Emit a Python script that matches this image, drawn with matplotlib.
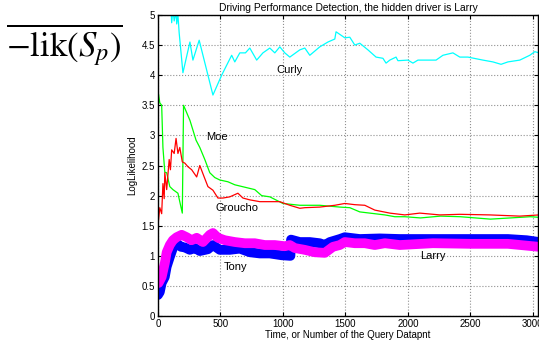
import matplotlib
matplotlib.use("Agg")
import matplotlib.pyplot as plt
import numpy as np

# ---- data ----
curly_x = [0, 60, 100, 110, 120, 130, 145, 150, 160, 170, 200, 256, 280, 330, 440, 510,
           590, 615, 655, 700, 735, 790, 840, 895, 935, 975, 1015, 1055, 1135, 1175, 1215,
           1295, 1360, 1415, 1425, 1495, 1535, 1575, 1615, 1680, 1745, 1800, 1825, 1855,
           1905, 1920, 2000, 2040, 2080, 2225, 2280, 2360, 2415, 2480, 2600, 2680, 2745,
           2800, 2895, 2975, 3015, 3050]
curly_y = [5.6, 5.5, 5.3, 4.87, 5.1, 4.9, 5.05, 4.85, 5.0, 4.7, 4.04, 4.55, 4.25, 4.58, 3.67, 4.0,
           4.33, 4.22, 4.37, 4.37, 4.45, 4.25, 4.37, 4.45, 4.37, 4.47, 4.37, 4.3, 4.42, 4.45, 4.33,
           4.47, 4.55, 4.6, 4.72, 4.62, 4.63, 4.5, 4.53, 4.42, 4.3, 4.28, 4.2, 4.25,
           4.3, 4.24, 4.25, 4.2, 4.25, 4.25, 4.33, 4.37, 4.3, 4.3, 4.25, 4.22, 4.18,
           4.22, 4.25, 4.33, 4.39, 4.37]

moe_x = [0, 15, 30, 40, 55, 70, 95, 120, 160, 195, 205, 256, 305, 335, 375, 415, 455, 495,
         560, 615, 695, 775, 830, 895, 1000, 1135, 1295, 1455, 1535, 1615, 1695, 1815, 1895,
         1975, 2100, 2260, 2420, 2660, 2820, 2980, 3050]
moe_y = [3.75, 3.54, 3.5, 2.8, 2.39, 2.38, 2.15, 2.1, 2.04, 1.71, 3.5, 3.25, 2.92, 2.8, 2.6,
         2.38, 2.3, 2.26, 2.23, 2.18, 2.14, 2.1, 2.0, 1.98, 1.87, 1.84, 1.84, 1.81, 1.8, 1.73,
         1.71, 1.68, 1.65, 1.65, 1.63, 1.66, 1.65, 1.61, 1.63, 1.65, 1.64]

groucho_x = [0, 15, 30, 40, 50, 55, 70, 90, 100, 110, 130, 145, 160, 175, 195, 215, 240, 270,
             310, 335, 370, 400, 440, 480, 520, 575, 640, 680, 735, 815, 975, 1055, 1135,
             1175, 1295, 1415, 1495, 1575, 1655, 1735, 1855, 1975, 2095, 2255, 2415, 2655,
             2895, 3050]
groucho_y = [1.5, 1.8, 1.7, 2.2, 1.95, 2.38, 2.1, 2.6, 2.43, 2.76, 2.7, 2.95, 2.7, 2.8, 2.56,
             2.54, 2.48, 2.43, 2.31, 2.5, 2.31, 2.15, 2.09, 1.96, 1.96, 1.98, 2.04, 1.96, 1.93,
             1.9, 1.9, 1.84, 1.79, 1.8, 1.81, 1.84, 1.87, 1.85, 1.84, 1.76, 1.71, 1.68, 1.71,
             1.68, 1.69, 1.68, 1.66, 1.68]

tony_x = [0, 15, 30, 55, 70, 95, 120, 150, 185, 215, 255, 295, 335, 400, 440, 495, 575, 655,
          735, 815, 895, 990, 1060, 1065, 1135, 1215, 1295, 1335, 1375, 1455, 1495, 1615,
          1775, 1935, 2200, 2500, 2800, 2950, 3050]
tony_y = [0.35, 0.4, 0.55, 0.65, 0.82, 0.98, 1.13, 1.21, 1.15, 1.14, 1.1, 1.13, 1.08, 1.11,
          1.18, 1.1, 1.1, 1.12, 1.06, 1.04, 1.04, 1.01, 1.0, 1.27, 1.23, 1.23, 1.21, 1.18, 1.23,
          1.28, 1.31, 1.28, 1.29, 1.28, 1.28, 1.28, 1.28, 1.26, 1.23]

larry_x = [0, 5, 30, 55, 70, 95, 120, 150, 190, 230, 270, 310, 360, 415, 440, 480, 535, 615,
           695, 775, 855, 935, 1015, 1055, 1095, 1175, 1255, 1335, 1400, 1455, 1495, 1575,
           1655, 1735, 1815, 1935, 2200, 2500, 2800, 2950, 3050]
larry_y = [0.6, 0.55, 0.65, 0.88, 1.06, 1.18, 1.26, 1.31, 1.35, 1.31, 1.26, 1.3, 1.23, 1.35,
           1.38, 1.3, 1.26, 1.23, 1.21, 1.21, 1.18, 1.18, 1.16, 1.18, 1.13, 1.1, 1.06, 1.05,
           1.15, 1.18, 1.23, 1.21, 1.21, 1.18, 1.21, 1.18, 1.21, 1.2, 1.2, 1.17, 1.15]

plt.rcParams['font.family'] = ['Liberation Sans', 'DejaVu Sans']
plt.rcParams['mathtext.fontset'] = 'stix'

fig = plt.figure(figsize=(5.39, 3.47), dpi=100)
ax = fig.add_axes([0.293, 0.089, 0.705, 0.868])

ax.plot(curly_x, curly_y, color='#00ffff', lw=0.9)
ax.plot(moe_x, moe_y, color='#00ff00', lw=0.9)
ax.plot(groucho_x, groucho_y, color='#ff0000', lw=0.9)
# thick marker-like bands
ax.plot(tony_x, tony_y, color='#0000ff', lw=7, solid_joinstyle='round',
        solid_capstyle='round')
ax.plot(larry_x, larry_y, color='#ff00ff', lw=7, solid_joinstyle='round',
        solid_capstyle='round')

ax.text(1056, 4.09, 'Curly', fontsize=8, ha='center', va='center')
ax.text(472, 2.97, 'Moe', fontsize=8, ha='center', va='center')
ax.text(632, 1.79, 'Groucho', fontsize=8, ha='center', va='center')
ax.text(624, 0.81, 'Tony', fontsize=8, ha='center', va='center')
ax.text(2200, 1.0, 'Larry', fontsize=8, ha='center', va='center')

ax.set_xlim(0, 3040)
ax.set_ylim(0, 5)
ax.set_xticks(np.arange(0, 3001, 500))
ax.set_yticks(np.arange(0, 5.01, 0.5))
ax.set_yticklabels(['0', '0.5', '1', '1.5', '2', '2.5', '3', '3.5', '4', '4.5', '5'])
ax.tick_params(direction='in', top=True, right=True, labelsize=7, length=3, pad=2)
ax.grid(True, linestyle=':', color='#909090', linewidth=0.8)
for s in ax.spines.values():
    s.set_linewidth(1.0)

ax.set_title('Driving Performance Detection, the hidden driver is Larry', fontsize=7.4, pad=3)
ax.set_xlabel('Time, or Number of the Query Datapnt', fontsize=7, labelpad=1)
ax.set_ylabel('LogLikelihood', fontsize=7, labelpad=3)

fig.text(0.012, 0.87, r'$\overline{-\mathrm{lik}(S_p)}$', fontsize=25, ha='left', va='center')

fig.savefig('out.png', dpi=100)
